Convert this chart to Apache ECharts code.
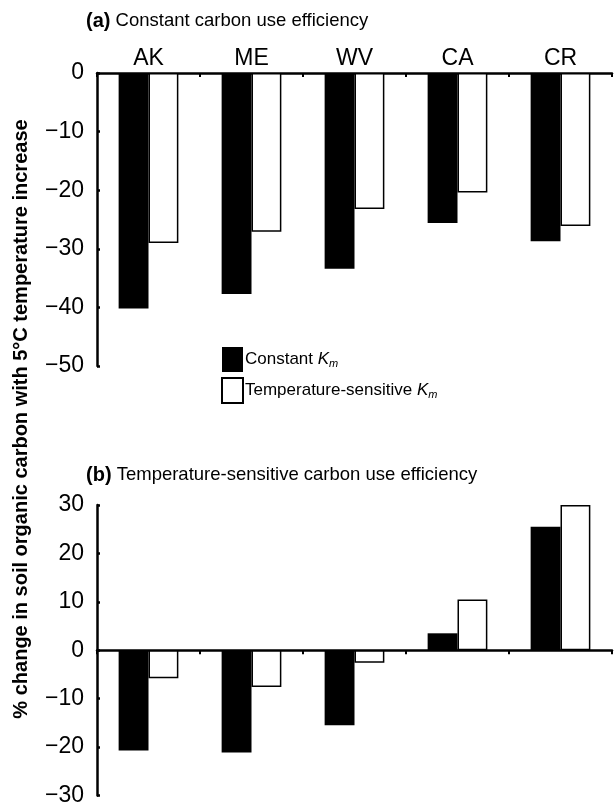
<!DOCTYPE html>
<html>
<head>
<meta charset="utf-8">
<script src="https://cdn.jsdelivr.net/npm/echarts@6/dist/echarts.min.js"></script>
<style>
html,body{margin:0;padding:0;background:#fff;}
#main{width:616px;height:807px;}
</style>
</head>
<body>
<div id="main"></div>
<script>
var categories = ['AK', 'ME', 'WV', 'CA', 'CR'];
// Panel (a): constant carbon use efficiency
var aConstantKm = [-40.2, -37.7, -33.4, -25.6, -28.7];
var aTempSensKm = [-29.0, -27.1, -23.2, -20.4, -26.1];
// Panel (b): temperature-sensitive carbon use efficiency
var bConstantKm = [-20.7, -21.1, -15.5, 3.5, 25.5];
var bTempSensKm = [-5.8, -7.6, -2.6, 10.5, 30.0];
var aTicks = {min: -50, max: 0, interval: 10};
var bTicks = {min: -30, max: 30, interval: 10};
var seriesNames = ['Constant Km', 'Temperature-sensitive Km'];

var FONT = 'Liberation Sans, Arial, Helvetica, sans-serif';
function minusFmt(v){ return v < 0 ? '\u2212' + Math.abs(v) : String(v); }

var chart = echarts.init(document.getElementById('main'), null, {renderer:'canvas'});

var yAxisCommon = function(t){
  return {
    type: 'value', min: t.min, max: t.max, interval: t.interval,
    axisLine: {show: true, lineStyle: {color: '#000', width: 2.5}},
    axisTick: {show: true, inside: true, length: 3, lineStyle: {color: '#000', width: 2.5}},
    splitLine: {show: false},
    axisLabel: {color: '#000', fontSize: 23, fontFamily: FONT, margin: 13, formatter: minusFmt}
  };
};

var blackStyle = {color: '#000'};
var whiteStyle = {color: '#fff', borderColor: '#000', borderWidth: 1.5};

var option = {
  animation: false,
  backgroundColor: '#fff',
  textStyle: {fontFamily: FONT},
  grid: [
    {left: 97, right: 4, top: 73, height: 293, containLabel: false},
    {left: 97, right: 4, top: 505, height: 296, containLabel: false}
  ],
  xAxis: [
    {
      type: 'category', gridIndex: 0, data: categories, position: 'top',
      axisLine: {show: true, onZero: false, lineStyle: {color: '#000', width: 2.5}},
      axisTick: {show: true, inside: true, length: 4, lineStyle: {color: '#000', width: 2}},
      axisLabel: {color: '#000', fontSize: 23, fontFamily: FONT, margin: 3}
    },
    {
      type: 'category', gridIndex: 1, data: categories, position: 'bottom',
      axisLine: {show: true, onZero: true, lineStyle: {color: '#000', width: 2.5}},
      axisTick: {show: true, inside: false, length: 4, lineStyle: {color: '#000', width: 2}},
      axisLabel: {show: false}
    }
  ],
  yAxis: [
    Object.assign({gridIndex: 0}, yAxisCommon(aTicks)),
    Object.assign({gridIndex: 1}, yAxisCommon(bTicks))
  ],
  legend: {
    orient: 'vertical', left: 221, top: 347, itemGap: 5, padding: 0,
    itemWidth: 21, itemHeight: 25, icon: 'rect',
    data: seriesNames,
    formatter: function(name){
      return name === seriesNames[0] ? 'Constant {k|K}{s|m}' : 'Temperature-sensitive {k|K}{s|m}';
    },
    textStyle: {
      color: '#000', fontSize: 17, fontFamily: FONT, padding: [0,0,0,-3],
      rich: {
        k: {fontStyle: 'italic', fontSize: 17, fontFamily: FONT, color: '#000'},
        s: {fontStyle: 'italic', fontSize: 11, fontFamily: FONT, color: '#000', padding: [9,0,0,0]}
      }
    }
  },
  series: [
    {name: seriesNames[0], type: 'bar', xAxisIndex: 0, yAxisIndex: 0, data: aConstantKm, barWidth: '29%', barGap: '0%', itemStyle: blackStyle},
    {name: seriesNames[1], type: 'bar', xAxisIndex: 0, yAxisIndex: 0, data: aTempSensKm, barWidth: '29%', barGap: '0%', itemStyle: whiteStyle},
    {name: seriesNames[0], type: 'bar', xAxisIndex: 1, yAxisIndex: 1, data: bConstantKm, barWidth: '29%', barGap: '0%', itemStyle: blackStyle},
    {name: seriesNames[1], type: 'bar', xAxisIndex: 1, yAxisIndex: 1, data: bTempSensKm, barWidth: '29%', barGap: '0%', itemStyle: whiteStyle}
  ],
  graphic: [
    {type: 'text', x: 86, y: 21, style: {
      text: '{b|(a)} Constant carbon use efficiency', font: '18.5px ' + FONT, fill: '#000', verticalAlign: 'middle',
      rich: {b: {fontWeight: 'bold', fontSize: 20, fontFamily: FONT, fill: '#000'}}
    }},
    {type: 'text', x: 86, y: 475, style: {
      text: '{b|(b)} Temperature-sensitive carbon use efficiency', font: '18.5px ' + FONT, fill: '#000', verticalAlign: 'middle',
      rich: {b: {fontWeight: 'bold', fontSize: 20, fontFamily: FONT, fill: '#000'}}
    }},
    {type: 'text', x: 21, y: 419, rotation: Math.PI / 2, style: {
      text: '% change in soil organic carbon with 5\u00B0C temperature increase',
      font: 'bold 20px ' + FONT, fill: '#000', align: 'center', verticalAlign: 'middle'
    }}
  ]
};
chart.setOption(option);
</script>
</body>
</html>
